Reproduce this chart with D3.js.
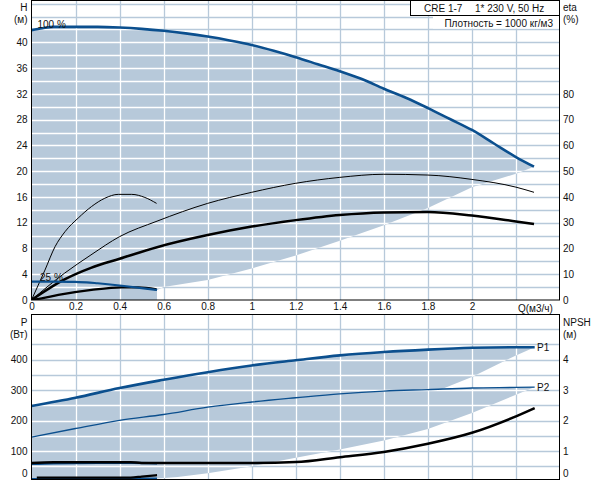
<!DOCTYPE html>
<html>
<head>
<meta charset="utf-8">
<script src="https://cdnjs.cloudflare.com/ajax/libs/d3/7.8.5/d3.min.js"></script>
<style>
  body { margin: 0; background: #fff; }
  svg { display: block; font-family: "Liberation Sans", Arial, sans-serif; font-size: 10px; }
</style>
</head>
<body>
<div id="chart"></div>
<script>
// tick labels
const qTicks = [0, 0.2, 0.4, 0.6, 0.8, 1, 1.2, 1.4, 1.6, 1.8, 2];
const hTicks = [0, 4, 8, 12, 16, 20, 24, 28, 32, 36, 40];
const etaTicks = [0, 10, 20, 30, 40, 50, 60, 70, 80];
const pTicks = [0, 100, 200, 300, 400];
const npshTicks = [0, 1, 2, 3, 4];

// QH at 100 % speed
const qhQ = [0, 0.05, 0.1, 0.2, 0.3, 0.4, 0.5, 0.6, 0.7, 0.8, 0.9, 1.0, 1.1, 1.2, 1.3, 1.4, 1.5, 1.6, 1.7, 1.8, 1.9, 2.0, 2.1, 2.2, 2.282];
const qhH = [41.9, 42.2, 42.4, 42.4, 42.4, 42.3, 42.1, 41.8, 41.4, 40.9, 40.3, 39.6, 38.7, 37.7, 36.6, 35.5, 34.3, 32.8, 31.4, 29.8, 28.1, 26.4, 24.3, 22.2, 20.7];
// QH at 25 %
const qh25Q = [0, 0.1, 0.2, 0.25, 0.3, 0.4, 0.5, 0.57];
const qh25H = [2.85, 2.85, 2.8, 2.75, 2.6, 2.25, 1.85, 1.55];
// lower edge of the QH working area
const qhEdgeQ = [2.282, 2.2, 2.0, 1.8, 1.6, 1.4, 1.2, 1.0, 0.8, 0.6, 0.57, 0.57, 0];
const qhEdgeH = [20.7, 19.6, 17.5, 14.3, 11.6, 9.2, 6.9, 4.9, 3.1, 2.0, 1.55, 0, 0];

// efficiency (%)
const etaQ = [0, 0.15, 0.27, 0.4, 0.57, 0.8, 1.0, 1.2, 1.4, 1.6, 1.8, 2.0, 2.2, 2.282];
const etaPump = [0, 10.4, 17.5, 24.6, 30.6, 37.5, 41.8, 45.3, 47.6, 48.8, 48.5, 46.8, 43.8, 41.8];
const etaTotal = [0, 8.0, 12.5, 16.0, 20.5, 25.2, 28.5, 31, 33, 34, 34.2, 32.8, 30.5, 29.5];
const eta25Q = [0, 0.061, 0.107, 0.152, 0.212, 0.273, 0.333, 0.394, 0.455, 0.515, 0.568];
const eta25Pump = [0, 11.6, 20.7, 26.5, 31.8, 36.3, 39.5, 41, 41, 39.8, 37.5];
const eta25TotQ = [0, 0.046, 0.122, 0.273, 0.41, 0.485, 0.568];
const eta25Total = [0, 0.66, 1.95, 3.9, 4.9, 4.9, 4.15];

// power (W)
const pQ = [0, 0.2, 0.4, 0.6, 0.8, 1.0, 1.2, 1.4, 1.6, 1.8, 2.0, 2.2, 2.285];
const p1 = [248, 275, 307, 334, 359, 381, 398, 414, 425, 433, 439, 441, 441];
const p2 = [146, 174, 201, 220, 244, 261, 275, 288, 297, 302, 307, 309, 310];
const p25Q = [0, 0.1, 0.3, 0.46, 0.57];
const p1At25 = [58, 60, 61, 61, 60];
const p2At25 = [8, 8, 9, 10, 10];
const p1EdgeQ = [2.285, 2.2, 2.0, 1.85, 1.6, 1.2, 0.8, 0.57, 0.57, 0];
const p1Edge = [441, 414, 343, 300, 240, 160, 100, 60, 0, 0];
const p2EdgeQ = [2.285, 2.2, 2.0, 1.8, 1.6, 1.4, 1.2, 1.0, 0.8, 0.664, 0.57, 0.57, 0];
const p2Edge = [310, 285, 225, 172, 135, 105, 78, 50, 27, 15, 10, 0, 0];

// NPSH (m)
const npshQ = [0, 0.1, 0.45, 0.5, 1.0, 1.2, 1.4, 1.6, 1.8, 2.0, 2.2, 2.285];
const npsh = [0.61, 0.63, 0.63, 0.61, 0.61, 0.64, 0.80, 0.97, 1.24, 1.60, 2.14, 2.41];
const npsh25Q = [0.024, 0.45, 0.5, 0.57];
const npsh25 = [0.13, 0.13, 0.16, 0.21];

document.addEventListener('DOMContentLoaded', function () {
  const w = 592, h = 480;
  const blue = '#0b4f8e';
  const areaCol = '#b7c9da';
  const textCol = '#111';

  const svg = d3.select('#chart').append('svg')
    .attr('width', w)
    .attr('height', h);

  const x = d3.scaleLinear().domain([0, 2.4]).range([31.5, 560]);
  const yH = d3.scaleLinear().domain([0, 46.5]).range([300, 0.5]);
  const yEta = d3.scaleLinear().domain([0, 116.25]).range([300, 0.5]);
  const yP = d3.scaleLinear().domain([0, 550]).range([481.5, 314]);
  const yNpsh = d3.scaleLinear().domain([0, 5.5]).range([481.5, 314]);

  const gridQ = d3.range(0.2, 2.3, 0.2);
  const gridH = d3.range(2, 47, 2);
  const gridP = d3.range(50, 501, 50);

  function linePath(qs, vs, ys, curve) {
    return d3.line()
      .x(i => x(qs[i]))
      .y(i => ys(vs[i]))
      .curve(curve || d3.curveMonotoneX)(d3.range(qs.length));
  }

  function areaPath(topQ, topV, edgeQ, edgeV, ys) {
    let top = linePath(topQ, topV, ys);
    let edge = linePath(edgeQ, edgeV, ys, d3.curveLinear);
    return top + edge.replace(/^M/, 'L') + 'Z';
  }

  const topArea = areaPath(qhQ, qhH, qhEdgeQ, qhEdgeH, yH);
  const p1Area = areaPath(pQ, p1, p1EdgeQ, p1Edge, yP);
  const p2Area = areaPath(pQ, p2, p2EdgeQ, p2Edge, yP);

  const defs = svg.append('defs');
  defs.append('clipPath').attr('id', 'clip-top-area')
    .append('path').attr('d', topArea);
  let cb = defs.append('clipPath').attr('id', 'clip-bottom-area');
  cb.append('path').attr('d', p1Area);
  cb.append('path').attr('d', p2Area);
  defs.append('clipPath').attr('id', 'clip-top')
    .append('rect').attr('x', 31.5).attr('y', 0.5).attr('width', 528.5).attr('height', 299.5);
  defs.append('clipPath').attr('id', 'clip-bottom')
    .append('rect').attr('x', 31.5).attr('y', 314).attr('width', 528.5).attr('height', 166);

  function drawGrid(g, colour, yScale, yVals, y0, y1) {
    g.selectAll('.vg').data(gridQ).enter().append('line')
      .attr('x1', d => Math.round(x(d)) + 0.5).attr('x2', d => Math.round(x(d)) + 0.5)
      .attr('y1', y0).attr('y2', y1)
      .attr('stroke', colour).attr('stroke-width', 1.3);
    g.selectAll('.hg').data(yVals).enter().append('line')
      .attr('x1', 31.5).attr('x2', 560)
      .attr('y1', d => Math.round(yScale(d)) + 0.5).attr('y2', d => Math.round(yScale(d)) + 0.5)
      .attr('stroke', colour).attr('stroke-width', 1.3);
  }

  // ---- top chart (H / eta)
  drawGrid(svg.append('g'), areaCol, yH, gridH, 0.5, 300);
  svg.append('path').attr('d', topArea).attr('fill', areaCol);
  drawGrid(svg.append('g').attr('clip-path', 'url(#clip-top-area)'), '#fff', yH, gridH, 0.5, 300);

  // ---- bottom chart (P / NPSH)
  drawGrid(svg.append('g'), areaCol, yP, gridP, 314, 480);
  svg.append('path').attr('d', p1Area).attr('fill', areaCol);
  svg.append('path').attr('d', p2Area).attr('fill', areaCol);
  drawGrid(svg.append('g').attr('clip-path', 'url(#clip-bottom-area)'), '#fff', yP, gridP, 314, 480);

  // legend box + density note (white background hides grid)
  svg.append('rect').attr('x', 433).attr('y', 15.5).attr('width', 126).attr('height', 13).attr('fill', '#fff');
  svg.append('rect').attr('x', 410.5).attr('y', 0.5).attr('width', 149).attr('height', 15)
    .attr('fill', '#fff').attr('stroke', '#000');

  // curves
  const top = svg.append('g').attr('clip-path', 'url(#clip-top)').attr('fill', 'none');
  top.append('path').attr('d', linePath(etaQ, etaPump, yEta)).attr('stroke', '#000').attr('stroke-width', 1);
  top.append('path').attr('d', linePath(eta25Q, eta25Pump, yEta)).attr('stroke', '#000').attr('stroke-width', 1);
  top.append('path').attr('d', linePath(etaQ, etaTotal, yEta)).attr('stroke', '#000').attr('stroke-width', 2.5);
  top.append('path').attr('d', linePath(eta25TotQ, eta25Total, yEta)).attr('stroke', '#000').attr('stroke-width', 2.3);
  top.append('path').attr('d', linePath(qh25Q, qh25H, yH)).attr('stroke', blue).attr('stroke-width', 2.2);
  top.append('path').attr('d', linePath(qhQ, qhH, yH)).attr('stroke', blue).attr('stroke-width', 2.6);

  const bottom = svg.append('g').attr('clip-path', 'url(#clip-bottom)').attr('fill', 'none');
  bottom.append('path').attr('d', linePath(pQ, p2, yP)).attr('stroke', blue).attr('stroke-width', 1.3);
  bottom.append('path').attr('d', linePath(pQ, p1, yP)).attr('stroke', blue).attr('stroke-width', 2.6);
  bottom.append('path').attr('d', linePath(p25Q, p1At25, yP)).attr('stroke', blue).attr('stroke-width', 2.4);
  bottom.append('path').attr('d', linePath(p25Q, p2At25, yP)).attr('stroke', blue).attr('stroke-width', 2);
  bottom.append('path').attr('d', linePath(npshQ, npsh, yNpsh)).attr('stroke', '#000').attr('stroke-width', 2.5);
  bottom.append('path').attr('d', linePath(npsh25Q, npsh25, yNpsh)).attr('stroke', '#000').attr('stroke-width', 2.3);

  // frames
  svg.append('rect').attr('x', 31.5).attr('y', 0.5).attr('width', 528).attr('height', 299.5)
    .attr('fill', 'none').attr('stroke', '#000');
  svg.append('rect').attr('x', 31.5).attr('y', 314.5).attr('width', 528).attr('height', 165)
    .attr('fill', 'none').attr('stroke', '#000');

  // axes
  function styleAxis(g) {
    g.select('.domain').remove();
    g.attr('font-family', null).attr('font-size', null);
    g.selectAll('text').attr('fill', textCol);
  }

  svg.append('g').attr('transform', 'translate(31.5,0)')
    .call(d3.axisLeft(yH).tickValues(hTicks).tickSize(0).tickPadding(4))
    .call(styleAxis);
  svg.append('g').attr('transform', 'translate(560,0)')
    .call(d3.axisRight(yEta).tickValues(etaTicks).tickSize(0).tickPadding(3))
    .call(styleAxis);
  svg.append('g').attr('transform', 'translate(0,300)')
    .call(d3.axisBottom(x).tickValues(qTicks).tickSize(0).tickPadding(3).tickFormat(d3.format('')))
    .call(styleAxis);

  const pAxis = svg.append('g').attr('transform', 'translate(31.5,0)')
    .call(d3.axisLeft(yP).tickValues(pTicks).tickSize(0).tickPadding(4))
    .call(styleAxis);
  const nAxis = svg.append('g').attr('transform', 'translate(560,0)')
    .call(d3.axisRight(yNpsh).tickValues(npshTicks).tickSize(0).tickPadding(3).tickFormat(d3.format('d')))
    .call(styleAxis);
  // zero labels sit above the cut-off bottom edge
  pAxis.selectAll('.tick').filter(d => d === 0).attr('transform', 'translate(0,474)');
  nAxis.selectAll('.tick').filter(d => d === 0).attr('transform', 'translate(0,474)');

  // texts
  function label(tx, ty, str, anchor) {
    svg.append('text').attr('x', tx).attr('y', ty)
      .attr('text-anchor', anchor || 'start')
      .attr('fill', textCol)
      .text(str);
  }
  label(27.5, 11, 'H', 'end');
  label(27.5, 23, '(м)', 'end');
  label(563, 11, 'eta');
  label(563, 23, '(%)');
  label(27.5, 325.5, 'P', 'end');
  label(27.5, 338, '(Вт)', 'end');
  label(563, 325.5, 'NPSH');
  label(563, 338, '(м)');
  label(x(2.2) + 2, 311.5, 'Q(м3/ч)');
  label(424, 11.5, 'CRE 1-7');
  label(475, 11.5, '1* 230 V, 50 Hz');
  label(553, 27, 'Плотность = 1000 кг/м3', 'end');
  label(37.5, 28, '100 %');
  label(40, 280.5, '25 %');
  label(537, 351, 'P1');
  label(537, 391, 'P2');
});
</script>
</body>
</html>
